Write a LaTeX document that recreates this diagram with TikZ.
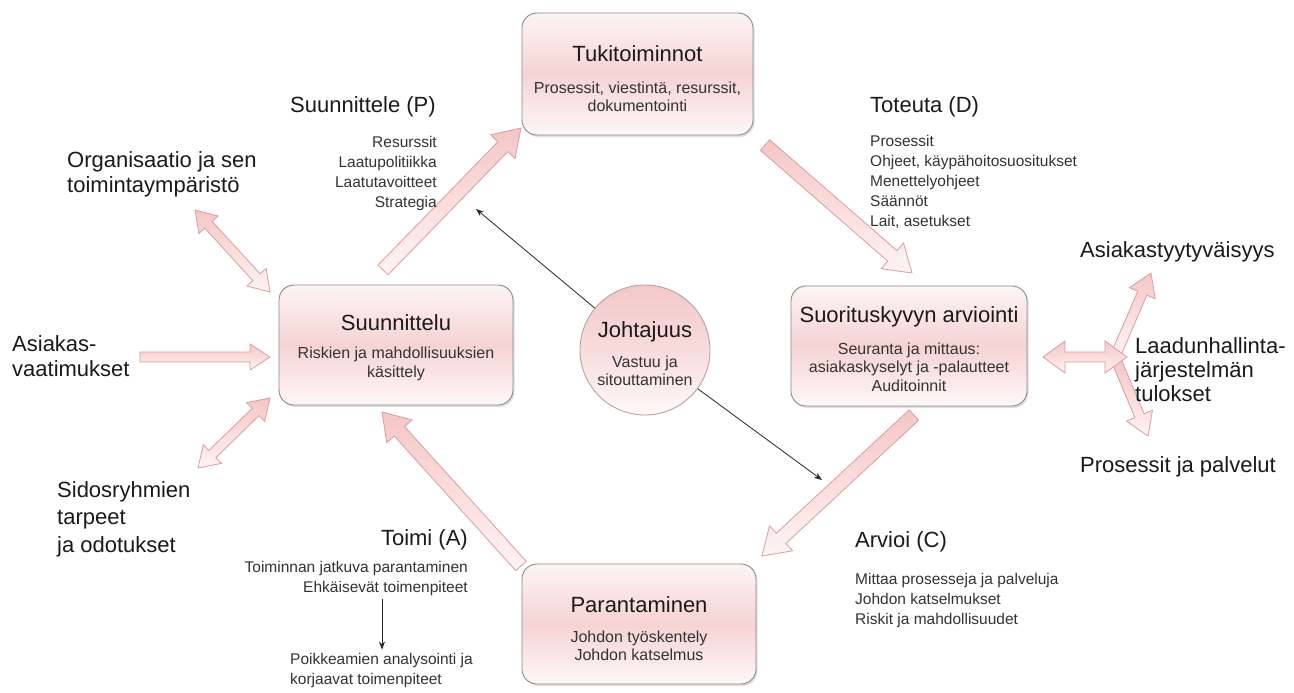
\documentclass[tikz,border=0pt]{standalone}
\usepackage{fontspec}
\setmainfont{Liberation Sans}
\usetikzlibrary{calc,shadows,arrows.meta}
\definecolor{boxtop}{HTML}{FDF4F4}
\definecolor{boxmid}{HTML}{F6D3D4}
\definecolor{boxbot}{HTML}{FEF7F7}
\definecolor{boxline}{HTML}{8A8A8A}
\definecolor{circline}{HTML}{B9A2A2}
\definecolor{circtop}{HTML}{F3C8C9}
\definecolor{circbot}{HTML}{FFF9F9}
\definecolor{arrtop}{HTML}{F5C6C6}
\definecolor{arrbot}{HTML}{FFF3F3}
\definecolor{arrline}{HTML}{D99E9E}
\definecolor{txt}{HTML}{1A1A1A}
\definecolor{subtxt}{HTML}{333333}
\newcommand{\fatone}[5]{%
  \coordinate (fhb) at ($(#2)!#5!(#1)$);
  \path[fat] ($(#1)!#3!90:(#2)$) -- ($(fhb)!#3!90:(#2)$) -- ($(fhb)!#4!90:(#2)$) -- (#2)
    -- ($(fhb)!#4!-90:(#2)$) -- ($(fhb)!#3!-90:(#2)$) -- ($(#1)!#3!-90:(#2)$) -- cycle;}
\newcommand{\fattwo}[5]{%
  \coordinate (fhb) at ($(#2)!#5!(#1)$);
  \coordinate (fhe) at ($(#1)!#5!(#2)$);
  \path[fat] (#1) -- ($(fhe)!#4!90:(#2)$) -- ($(fhe)!#3!90:(#2)$) -- ($(fhb)!#3!90:(#2)$)
    -- ($(fhb)!#4!90:(#2)$) -- (#2) -- ($(fhb)!#4!-90:(#2)$) -- ($(fhb)!#3!-90:(#2)$)
    -- ($(fhe)!#3!-90:(#2)$) -- ($(fhe)!#4!-90:(#2)$) -- cycle;}
\begin{document}
\begin{tikzpicture}[x=1pt,y=-1pt,
  box/.style={draw=boxline, line width=0.9pt, rounded corners=15pt,
    top color=boxtop, bottom color=boxbot, middle color=boxmid,
    drop shadow={opacity=0.25, shadow xshift=1.5pt, shadow yshift=-2pt}},
  circ/.style={circle, draw=circline, line width=0.9pt, top color=circtop, bottom color=circbot,
    middle color=boxmid!80!white},
  fat/.style={draw=arrline, top color=arrtop, bottom color=arrbot, line width=0.8pt, line join=miter},
  ttl/.style={font=\fontsize{22}{26}\selectfont, text=txt, inner sep=0pt},
  sub/.style={font=\fontsize{16}{18.5}\selectfont, text=subtxt, inner sep=0pt, align=center},
  big/.style={font=\fontsize{22}{25}\selectfont, text=txt, inner sep=0pt},
  small/.style={font=\fontsize{15.5}{20}\selectfont, text=subtxt, inner sep=0pt},
  thinarr/.style={draw=black!85, line width=0.8pt, -{Stealth[length=8pt,width=6pt]}}]
\fill[white] (0,0) rectangle (1294,693);
\useasboundingbox (0,0) rectangle (1294,693);

% boxes
\node[box, minimum width=231pt, minimum height=122pt] (tuki) at (637.5,74) {};
\node[ttl] (tukiT) at ($(tuki)+(0,-20)$) {Tukitoiminnot};
\node[sub] (tukiS) at ($(tuki)+(0,23)$) {Prosessit, viestintä, resurssit,\\dokumentointi};

\node[box, minimum width=234pt, minimum height=120pt] (suun) at (396,345) {};
\node[ttl] (suunT) at ($(suun)+(0,-22)$) {Suunnittelu};
\node[sub] (suunS) at ($(suun)+(0,19)$) {Riskien ja mahdollisuuksien\\käsittely};

\node[box, minimum width=236pt, minimum height=120pt] (suor) at (909,346) {};
\node[ttl] (suorT) at ($(suor)+(0,-29)$) {Suorituskyvyn arviointi};
\node[sub] (suorS) at ($(suor)+(0,21)$) {Seuranta ja mittaus:\\asiakaskyselyt ja -palautteet\\Auditoinnit};

\node[box, minimum width=234pt, minimum height=120pt] (para) at (639,624) {};
\node[ttl] (paraT) at ($(para)+(0,-19)$) {Parantaminen};
\node[sub] (paraS) at ($(para)+(0,22)$) {Johdon työskentely\\Johdon katselmus};

% thin arrows from the circle
\coordinate (jtl) at (476,209);
\coordinate (jbr) at (822,480);
\node[circ, minimum size=130pt] (johto) at (645,350) {};
\draw[thinarr] (johto) -- (jtl);
\draw[thinarr] (johto) -- (jbr);
\node[ttl] (johtoT) at ($(johto)+(0,-18)$) {Johtajuus};
\node[sub] (johtoS) at ($(johto)+(0,21)$) {Vastuu ja\\sitouttaminen};

% main cycle arrows
\coordinate (a1s) at (383,270); \coordinate (a1e) at (521,128);
\coordinate (a2s) at (765,145); \coordinate (a2e) at (912,273);
\coordinate (a3s) at (914,415); \coordinate (a3e) at (762,556);
\coordinate (a4s) at (521,566); \coordinate (a4e) at (382,412);
\fatone{a1s}{a1e}{7pt}{17pt}{26pt}
\fatone{a2s}{a2e}{7pt}{17pt}{26pt}
\fatone{a3s}{a3e}{7pt}{17pt}{26pt}
\fatone{a4s}{a4e}{7pt}{17pt}{26pt}

% left arrows
\coordinate (l1a) at (195,210); \coordinate (l1b) at (270,292);
\coordinate (l2a) at (140,357); \coordinate (l2b) at (270,357);
\coordinate (l3a) at (198,468); \coordinate (l3b) at (270,398);
\fattwo{l1a}{l1b}{5pt}{13pt}{20pt}
\fatone{l2a}{l2b}{5pt}{13pt}{20pt}
\fattwo{l3a}{l3b}{5pt}{13pt}{20pt}

% right arrows
\coordinate (r1a) at (1117,352); \coordinate (r1b) at (1151,273);
\coordinate (r2a) at (1117,362); \coordinate (r2b) at (1148,436);
\coordinate (r0a) at (1043,357); \coordinate (r0b) at (1127,357);
\fatone{r1a}{r1b}{5pt}{14pt}{22pt}
\fatone{r2a}{r2b}{5pt}{14pt}{22pt}
\fattwo{r0a}{r0b}{5pt}{16pt}{22pt}

% outer labels
\node[big, anchor=west, align=left] (orgT) at (67,174) {Organisaatio ja sen\\toimintaympäristö};
\node[big, anchor=west, align=left] (asiT) at (12,356) {Asiakas-\\vaatimukset};
\node[big, anchor=west, align=left, font=\fontsize{22}{27.5}\selectfont] (sidT) at (57,519) {Sidosryhmien\\tarpeet\\ja odotukset};
\node[big, anchor=west] (asT) at (1080,252) {Asiakastyytyväisyys};
\node[big, anchor=west, align=left, font=\fontsize{22}{24}\selectfont] (lhT) at (1135,370) {Laadunhallinta-\\järjestelmän\\tulokset};
\node[big, anchor=west] (ppT) at (1080,467) {Prosessit ja palvelut};

% PDCA labels
\node[big, anchor=west] (pT) at (290,107) {Suunnittele (P)};
\node[small, anchor=east, align=right] (pL) at (437,173) {Resurssit\\Laatupolitiikka\\Laatutavoitteet\\Strategia};
\node[big, anchor=west] (dT) at (870,107) {Toteuta (D)};
\node[small, anchor=west, align=left] (dL) at (870,182) {Prosessit\\Ohjeet, käypähoitosuositukset\\Menettelyohjeet\\Säännöt\\Lait, asetukset};
\node[big, anchor=west] (cT) at (855,542) {Arvioi (C)};
\node[small, anchor=west, align=left] (cL) at (855,600) {Mittaa prosesseja ja palveluja\\Johdon katselmukset\\Riskit ja mahdollisuudet};
\node[big, anchor=east] (aT) at (468,540) {Toimi (A)};
\node[small, anchor=east, align=right] (aL) at (468,578) {Toiminnan jatkuva parantaminen\\Ehkäisevät toimenpiteet};
\node[small, anchor=west, align=left] (poT) at (290,670) {Poikkeamien analysointi ja\\korjaavat toimenpiteet};
\coordinate (ax) at (382,0);
\draw[thinarr] ([yshift=-4pt]aL.south -| ax) -- ([yshift=3pt]poT.north -| ax);
\end{tikzpicture}
\end{document}
